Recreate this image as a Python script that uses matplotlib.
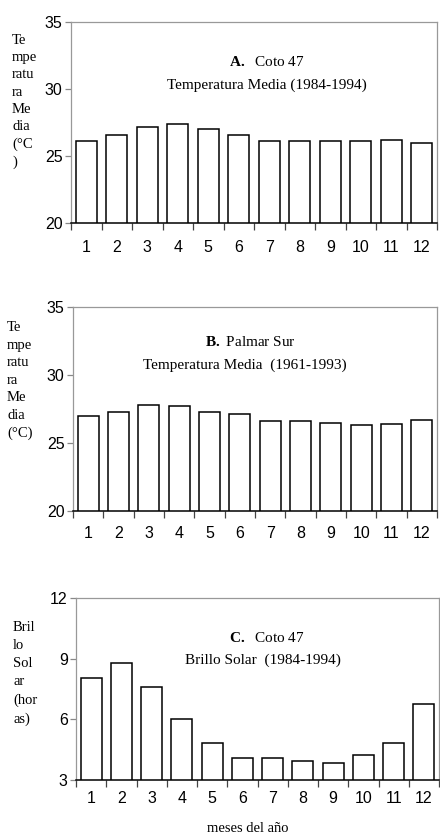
import matplotlib
matplotlib.use("Agg")
import matplotlib.pyplot as plt
from matplotlib.ticker import FixedLocator

# monthly values
months = list(range(1, 13))
temp_coto = [26.1, 26.6, 27.2, 27.4, 27.0, 26.6, 26.1, 26.1, 26.1, 26.1, 26.2, 26.0]
temp_palmar = [26.95, 27.3, 27.8, 27.7, 27.3, 27.1, 26.6, 26.6, 26.5, 26.3, 26.4, 26.7]
sol_coto = [8.05, 8.8, 7.6, 6.0, 4.85, 4.1, 4.1, 3.95, 3.85, 4.25, 4.85, 6.75]

W, H = 440, 834
SERIF = "Liberation Serif"
SANS = "Liberation Sans"
plt.rcParams["mathtext.fontset"] = "custom"
plt.rcParams["mathtext.rm"] = "Liberation Serif"
plt.rcParams["mathtext.bf"] = "Liberation Serif:bold"

fig = plt.figure(figsize=(W / 100, H / 100), dpi=100)


def px_axes(left, top, right, bottom):
    return fig.add_axes([left / W, 1 - bottom / H, (right - left) / W, (bottom - top) / H])


def ftext(x, y, s, **kw):
    fig.text(x / W, 1 - y / H, s, **kw)


def bar_panel(ax, vals, ylim, yticks, xlab_pad):
    ax.bar(months, [v - ylim[0] for v in vals], bottom=ylim[0], width=0.7,
           color="white", edgecolor="black", linewidth=1.1, zorder=3)
    ax.set_xlim(0.5, 12.5)
    ax.set_ylim(*ylim)
    ax.set_yticks(yticks)
    ax.set_xticks(months)
    ax.xaxis.set_minor_locator(FixedLocator([m + 0.5 for m in range(0, 13)]))
    ax.tick_params(axis="x", which="major", length=0, pad=xlab_pad, labelsize=11.5)
    ax.tick_params(axis="x", which="minor", length=5, width=0.9, color="#444444", direction="out")
    ax.tick_params(axis="y", length=4, width=0.9, color="#888888", labelsize=11.5, pad=2)
    for lab in ax.get_xticklabels() + ax.get_yticklabels():
        lab.set_fontfamily(SANS)
    for side in ["top", "right", "left"]:
        ax.spines[side].set_color("#999999")
        ax.spines[side].set_linewidth(0.9)
    ax.spines["bottom"].set_color("black")
    ax.spines["bottom"].set_linewidth(1.1)


title_kw = dict(family=SERIF, fontsize=11, ha="center", va="center")
ylab_kw = dict(family=SERIF, fontsize=10.5, va="top", ha="left")

# panel A
axA = px_axes(71, 22, 437, 223)
bar_panel(axA, temp_coto, (20, 35), [20, 25, 30, 35], 12)
ftext(12, 34, "Te\nmpe\nratu\nra\nMe\ndia\n(°C\n)", linespacing=1.42, **ylab_kw)
ftext(267, 62, r"$\mathbf{A.}$  Coto 47", **title_kw)
ftext(267, 85, "Temperatura Media (1984-1994)", **title_kw)

# panel B
axB = px_axes(73, 307, 437, 511)
bar_panel(axB, temp_palmar, (20, 35), [20, 25, 30, 35], 11)
ftext(7, 321, "Te\nmpe\nratu\nra\nMe\ndia\n(°C)", linespacing=1.46, **ylab_kw)
ftext(250, 342, r"$\mathbf{B.}$ Palmar Sur", **title_kw)
ftext(245, 365, "Temperatura Media  (1961-1993)", **title_kw)

# panel C
axC = px_axes(76, 598, 439, 780)
bar_panel(axC, sol_coto, (3, 12), [3, 6, 9, 12], 8)
ftext(13, 621, "Bril\nlo\nSol\nar\n(hor\nas)", linespacing=1.51, **ylab_kw)
ftext(267, 638, r"$\mathbf{C.}$  Coto 47", **title_kw)
ftext(263, 660, "Brillo Solar  (1984-1994)", **title_kw)
ftext(248, 828, "meses del año", family=SERIF, fontsize=10.5, ha="center", va="center")

fig.savefig("out.png", dpi=100)
